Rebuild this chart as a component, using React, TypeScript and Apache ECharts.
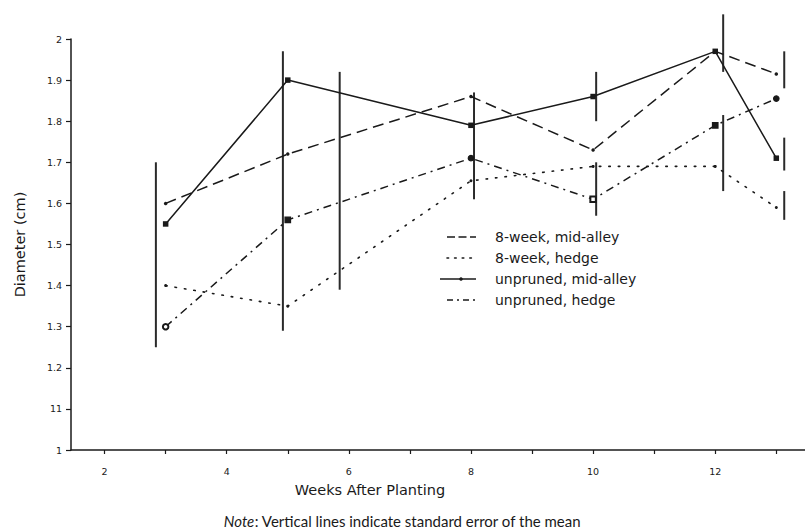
import React, { useEffect, useRef } from 'react';
import * as echarts from 'echarts';

// ---- data ----
const weeks = [3, 5, 8, 10, 12, 13];
const seriesNames = ['8-week, mid-alley', '8-week, hedge', 'unpruned, mid-alley', 'unpruned, hedge'];
const eightWeekMidAlley = [1.6, 1.72, 1.86, 1.73, 1.97, 1.915];
const eightWeekHedge = [1.4, 1.35, 1.655, 1.69, 1.69, 1.59];
const unprunedMidAlley = [1.55, 1.9, 1.79, 1.86, 1.97, 1.71];
const unprunedHedge = [1.3, 1.56, 1.71, 1.61, 1.79, 1.855];

// vertical standard-error bars: position (weeks), low, high
const errWeeks = [2.84, 4.92, 5.85, 8.05, 10.05, 10.05, 12.13, 12.13, 13.13, 13.13, 13.13];
const errLow = [1.25, 1.29, 1.39, 1.61, 1.8, 1.57, 1.92, 1.63, 1.88, 1.68, 1.56];
const errHigh = [1.7, 1.97, 1.92, 1.87, 1.92, 1.7, 2.06, 1.815, 1.97, 1.76, 1.63];

// axis ticks / labels
const xTickWeeks = [2, 3, 4, 5, 6, 7, 8, 9, 10, 11, 12, 13];
const xLabelWeeks = [2, 4, 6, 8, 10, 12];
const yTickLabels = ['1', '11', '1.2', '1.3', '1.4', '1.5', '1.6', '1.7', '1.8', '1.9', '2'];

const INK = '#1a1a1a';
const SANS = 'DejaVu Sans';

const dashStyles: (number[] | null)[] = [[8, 3.5], [1.6, 6], null, [6, 4, 2, 4]];

export default function App() {
  const ref = useRef<HTMLDivElement>(null);

  useEffect(() => {
    if (!ref.current) return;
    const chart = echarts.init(ref.current, undefined, { renderer: 'svg' });

    const pairs = (ys: number[]) => weeks.map((w, i) => [w, ys[i]]);
    const errData = errWeeks.map((w, i) => [w, errLow[i], errHigh[i]]);
    const hedgeSymbols = ['emptyCircle', 'rect', 'circle', 'emptyRect', 'rect', 'circle'];

    // hand-drawn legend (line samples + labels)
    const legendGraphics: any[] = [];
    seriesNames.forEach((name, i) => {
      const cy = 237 + 21 * i;
      const x1 = i === 2 ? 440 : 447;
      const dash = dashStyles[i];
      legendGraphics.push({
        type: 'line',
        shape: { x1, y1: cy, x2: 476, y2: cy },
        style: { stroke: INK, lineWidth: i === 1 ? 1.6 : 1.4, lineDash: dash || undefined, lineCap: i === 1 ? 'round' : 'butt' },
        silent: true,
      });
      if (i === 2) {
        legendGraphics.push({
          type: 'circle',
          shape: { cx: 461, cy, r: 1.8 },
          style: { fill: INK },
          silent: true,
        });
      }
      legendGraphics.push({
        type: 'text',
        x: 495,
        y: cy,
        style: {
          text: name,
          fontFamily: SANS,
          fontSize: 14,
          fill: INK,
          verticalAlign: 'middle',
          align: 'left',
        },
      });
    });

    const option: any = {
      animation: false,
      backgroundColor: '#fff',
      title: {
        text: '{i|Note}: Vertical lines indicate standard error of the mean',
        left: 'center',
        top: 508,
        textStyle: {
          fontFamily: 'Lato',
          fontSize: 15,
          fontWeight: 'normal',
          color: INK,
          rich: {
            i: { fontFamily: 'Lato', fontSize: 15, fontStyle: 'italic', color: INK },
          },
        },
      },
      grid: { left: 71, right: 0, top: 39, bottom: 81, containLabel: false, outerBoundsMode: 'none' },
      xAxis: {
        type: 'value',
        min: 1.45,
        max: 13.47,
        splitLine: { show: false },
        axisLine: { lineStyle: { color: INK, width: 1.5 } },
        axisTick: { customValues: xTickWeeks, length: 4, lineStyle: { color: INK, width: 1.2 } },
        axisLabel: {
          customValues: xLabelWeeks,
          margin: 16,
          fontFamily: SANS,
          fontSize: 9.5,
          color: INK,
        },
      },
      yAxis: {
        type: 'value',
        min: 1,
        max: 2,
        interval: 0.1,
        name: 'Diameter (cm)',
        nameLocation: 'middle',
        nameGap: 44,
        nameTextStyle: { fontFamily: SANS, fontSize: 14.5, color: INK },
        splitLine: { show: false },
        axisLine: { show: true, lineStyle: { color: INK, width: 1.5 } },
        axisTick: { show: true, length: 5, lineStyle: { color: INK, width: 1.2 } },
        axisLabel: {
          margin: 9,
          fontFamily: SANS,
          fontSize: 9.5,
          color: INK,
          formatter: (v: number) => yTickLabels[Math.round((v - 1) * 10)] ?? '',
        },
      },
      graphic: [
        {
          type: 'text',
          x: 370,
          y: 490,
          style: {
            text: 'Weeks After Planting',
            fontFamily: SANS,
            fontSize: 14.5,
            fill: INK,
            align: 'center',
            verticalAlign: 'middle',
          },
        },
        ...legendGraphics,
      ],
      series: [
        {
          name: seriesNames[0],
          type: 'line',
          data: pairs(eightWeekMidAlley),
          symbol: 'circle',
          symbolSize: 3.5,
          itemStyle: { color: INK },
          lineStyle: { color: INK, width: 1.5, type: [11, 6] },
        },
        {
          name: seriesNames[1],
          type: 'line',
          data: pairs(eightWeekHedge),
          symbol: 'circle',
          symbolSize: 3,
          itemStyle: { color: INK },
          lineStyle: { color: INK, width: 1.6, type: [1.5, 8], cap: 'round' },
        },
        {
          name: seriesNames[2],
          type: 'line',
          data: pairs(unprunedMidAlley),
          symbol: 'rect',
          symbolSize: 5.5,
          itemStyle: { color: INK },
          lineStyle: { color: INK, width: 1.5 },
        },
        {
          name: seriesNames[3],
          type: 'line',
          data: pairs(unprunedHedge).map((p, i) => ({ value: p, symbol: hedgeSymbols[i] })),
          symbol: 'circle',
          symbolSize: 5.5,
          itemStyle: { color: INK, borderColor: INK, borderWidth: 1.2 },
          lineStyle: { color: INK, width: 1.5, type: [8, 5, 2, 5] },
        },
        {
          name: 'error bars',
          type: 'custom',
          clip: false,
          silent: true,
          data: errData,
          encode: { x: 0, y: [1, 2] },
          renderItem: (params: any, api: any) => {
            const x = api.value(0);
            const p1 = api.coord([x, api.value(1)]);
            const p2 = api.coord([x, api.value(2)]);
            return {
              type: 'line',
              shape: { x1: p1[0], y1: p1[1], x2: p2[0], y2: p2[1] },
              style: { stroke: '#2a2a2a', lineWidth: 2 },
            };
          },
        },
      ],
    };

    chart.setOption(option);
    return () => chart.dispose();
  }, []);

  return (
    <div
      ref={ref}
      style={{ position: 'fixed', left: 0, top: 0, width: 805, height: 531, background: '#fff' }}
    />
  );
}
